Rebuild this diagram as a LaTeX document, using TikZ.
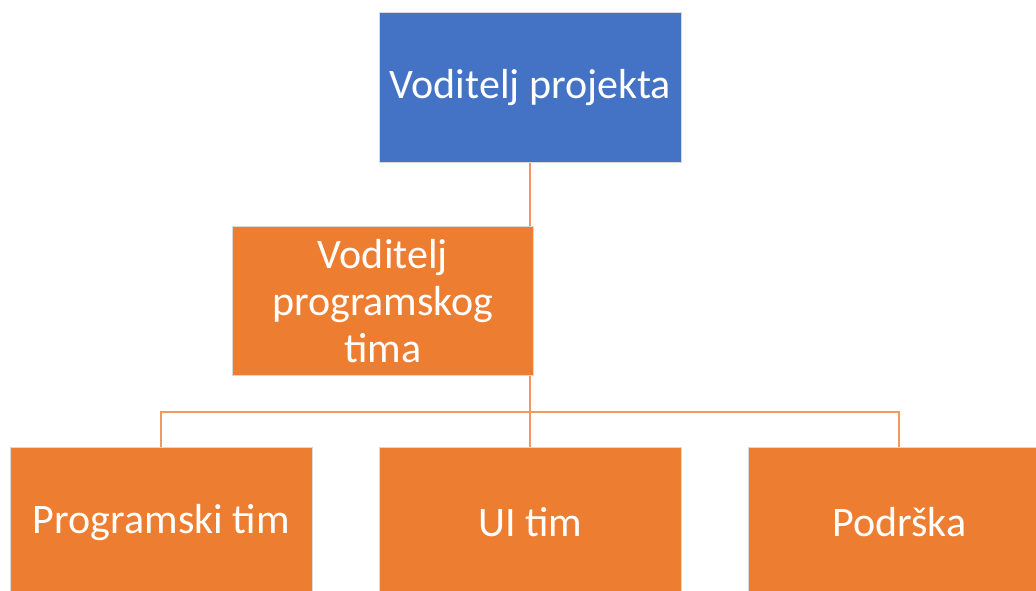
\documentclass[tikz,border=0pt]{standalone}
\usepackage{fontspec}
\setmainfont{Carlito}
\definecolor{vblue}{HTML}{4472C4}
\definecolor{vorange}{HTML}{ED7D31}
\definecolor{vline}{HTML}{F19A5E}
\begin{document}
\begin{tikzpicture}[x=1pt,y=-1pt,
  box/.style={draw=white!85!black, line width=0.6pt, minimum width=302pt, minimum height=150pt,
    inner sep=0pt, text=white, align=center, anchor=north west,
    font=\fontsize{42}{47}\selectfont},
  link/.style={draw=vline, line width=2pt}]
\useasboundingbox (0,0) rectangle (1036,590);
\clip (0,0) rectangle (1036,590);
\node[box, fill=vblue] (vp) at (379,12) {Voditelj projekta};
\node[box, fill=vorange, minimum width=301pt, minimum height=149pt] (vpt) at (232,226) {Voditelj\\programskog\\tima};
\node[box, fill=vorange] (pt) at (10,447) {Programski tim};
\node[box, fill=vorange] (ui) at (379,447) {UI tim};
\node[box, fill=vorange] (po) at (748,447) {Podrška};
\coordinate (bus) at (530,412);
\draw[link] (vp.south) -- (vp.south |- vpt.north);
\draw[link] (vp.south |- vpt.south) -- (ui.north);
\draw[link] (pt.north) -- (pt.north |- bus) -- (po.north |- bus) -- (po.north);
\end{tikzpicture}
\end{document}
